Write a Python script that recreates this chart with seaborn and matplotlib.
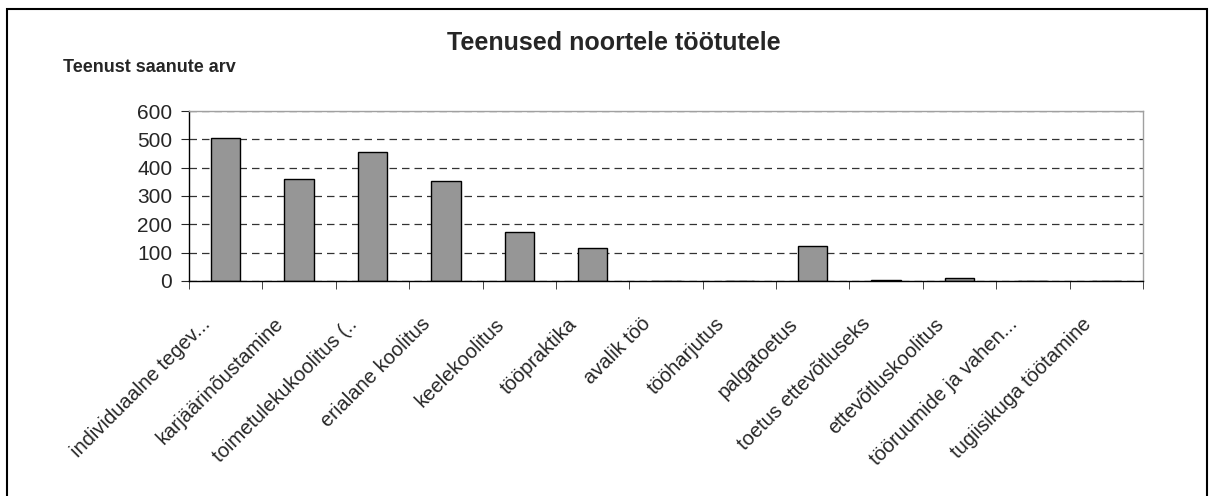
import numpy as np
import pandas as pd
import matplotlib
matplotlib.use("Agg")
import matplotlib.pyplot as plt
import seaborn as sns
from matplotlib.patches import Rectangle
from matplotlib.transforms import ScaledTranslation

# Services for young unemployed: number of recipients
services = [
    "individuaalne tegev...", "karjäärinõustamine", "toimetulekukoolitus (..",
    "erialane koolitus", "keelekoolitus", "tööpraktika", "avalik töö",
    "tööharjutus", "palgatoetus", "toetus ettevõtluseks", "ettevõtluskoolitus",
    "tööruumide ja vahen...", "tugiisikuga töötamine",
]
recipients = [506, 361, 455, 354, 172, 118, 0, 0, 122, 5, 10, 0, 0]

df = pd.DataFrame({"teenus": services, "arv": recipients})

sns.set_style("white")
plt.rcParams["font.family"] = ["Liberation Sans", "DejaVu Sans"]

fig = plt.figure(figsize=(12.14, 4.96), dpi=100)
ax = fig.add_axes([0.1557, 0.4335, 0.7858, 0.3427])

sns.barplot(data=df, x="teenus", y="arv", color="#969696", width=0.4,
            edgecolor="black", linewidth=1, saturation=1, ax=ax)

ax.set_ylim(0, 600)
ax.set_xlim(-0.5, len(services) - 0.5)
ax.set_yticks(np.arange(0, 601, 100))
ax.tick_params(axis="y", labelsize=15, length=6, direction="out", left=True, pad=6)
ax.yaxis.grid(True, linestyle=(0, (6, 4)), color="#333333", linewidth=0.9)
ax.set_axisbelow(True)

# ticks between categories, labels at the centers
ax.set_xticks(np.arange(len(services)))
ax.set_xticklabels(services, rotation=45, ha="right", va="top",
                   rotation_mode="anchor", fontsize=14.5)
ax.tick_params(axis="x", length=0, pad=24)
shift = ScaledTranslation(-0.25, 0, fig.dpi_scale_trans)
for lab in ax.get_xticklabels():
    lab.set_transform(lab.get_transform() + shift)
ax.set_xticks(np.arange(-0.5, len(services)), minor=True)
ax.tick_params(axis="x", which="minor", length=6, bottom=True, direction="out")

for side in ["left", "bottom"]:
    ax.spines[side].set_color("black")
    ax.spines[side].set_linewidth(1)
for side in ["top", "right"]:
    ax.spines[side].set_color("#a0a0a0")
    ax.spines[side].set_linewidth(1)

ax.set_xlabel("")
ax.set_ylabel("")

fig.text(0.506, 0.913, "Teenused noortele töötutele", ha="center", va="center",
         fontsize=18, fontweight="bold")
fig.text(0.052, 0.863, "Teenust saanute arv", ha="left", va="center",
         fontsize=13, fontweight="bold")

fig.patches.append(Rectangle((0.006, -0.05), 0.988, 1.032, transform=fig.transFigure,
                             fill=False, edgecolor="black", linewidth=1.5))

fig.savefig("out.png", dpi=100)
